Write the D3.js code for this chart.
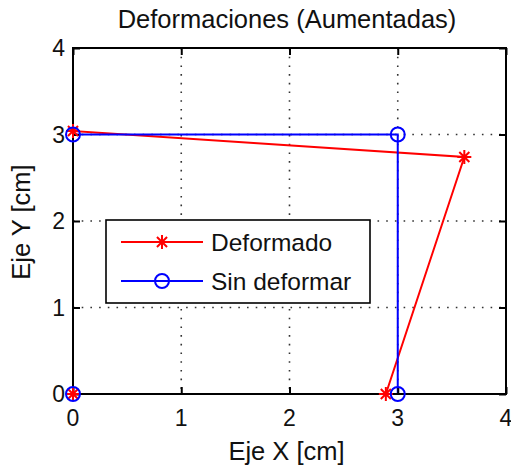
<!DOCTYPE html>
<html>
<head>
<meta charset="utf-8">
<script src="https://cdn.jsdelivr.net/npm/d3@7/dist/d3.min.js"></script>
<style>
html,body{margin:0;padding:0;background:#fff;}
svg{display:block;}
text{font-family:"Liberation Sans",Arial,sans-serif;fill:#111;}
</style>
</head>
<body>
<svg id="chart" width="511" height="467"></svg>
<script>
// ---- data ----
const xTicks = [0, 1, 2, 3, 4];
const yTicks = [0, 1, 2, 3, 4];
const deformadoX = [0, 0, 3.615, 2.89];
const deformadoY = [0, 3.04, 2.74, 0];
const sinDeformarX = [0, 0, 3, 3];
const sinDeformarY = [0, 3, 3, 0];
const seriesNames = ["Deformado", "Sin deformar"];
const titleText = "Deformaciones (Aumentadas)";
const xLabelText = "Eje X [cm]";
const yLabelText = "Eje Y [cm]";

// ---- layout ----
const L = 73, R = 506, T = 48, B = 394;
const svg = d3.select("#chart");
const x = d3.scaleLinear().domain([0, 4]).range([L, R]);
const y = d3.scaleLinear().domain([0, 4]).range([B, T]);

// grid
const grid = svg.append("g");
grid.selectAll("line.gx").data(xTicks.slice(1, -1)).join("line")
  .attr("x1", d => x(d)).attr("x2", d => x(d)).attr("y1", T).attr("y2", B)
  .attr("stroke", "#333").attr("stroke-width", 1.6).attr("stroke-dasharray", "1.6,7.1");
grid.selectAll("line.gy").data(yTicks.slice(1, -1)).join("line")
  .attr("y1", d => y(d)).attr("y2", d => y(d)).attr("x1", L).attr("x2", R)
  .attr("stroke", "#333").attr("stroke-width", 1.6).attr("stroke-dasharray", "1.6,7.1");

const line = d3.line().x(d => x(d[0])).y(d => y(d[1]));
const defPts = deformadoX.map((v, i) => [v, deformadoY[i]]);
const sinPts = sinDeformarX.map((v, i) => [v, sinDeformarY[i]]);

function star(g, cx, cy, r, color) {
  const a = r * 0.72;
  const d = `M${cx - r},${cy}L${cx + r},${cy}M${cx},${cy - r}L${cx},${cy + r}` +
            `M${cx - a},${cy - a}L${cx + a},${cy + a}M${cx - a},${cy + a}L${cx + a},${cy - a}`;
  g.append("path").attr("d", d).attr("stroke", color).attr("stroke-width", 2).attr("fill", "none");
}

// red series
const gRed = svg.append("g");
gRed.append("path").attr("d", line(defPts)).attr("fill", "none")
  .attr("stroke", "#ff0000").attr("stroke-width", 2);

// blue series
const gBlue = svg.append("g");
gBlue.append("path").attr("d", line(sinPts)).attr("fill", "none")
  .attr("stroke", "#0000ff").attr("stroke-width", 2);

// axes box
const tickLen = 7;
const ax = svg.append("g");
ax.append("rect").attr("x", L).attr("y", T).attr("width", R - L).attr("height", B - T)
  .attr("fill", "none").attr("stroke", "#000").attr("stroke-width", 2);
const xAxisB = d3.axisBottom(x).tickValues(xTicks).tickSizeInner(-tickLen).tickSizeOuter(0).tickFormat("");
const xAxisT = d3.axisTop(x).tickValues(xTicks).tickSizeInner(-tickLen).tickSizeOuter(0).tickFormat("");
const yAxisL = d3.axisLeft(y).tickValues(yTicks).tickSizeInner(-tickLen).tickSizeOuter(0).tickFormat("");
const yAxisR = d3.axisRight(y).tickValues(yTicks).tickSizeInner(-tickLen).tickSizeOuter(0).tickFormat("");
[[xAxisB, `translate(0,${B})`], [xAxisT, `translate(0,${T})`],
 [yAxisL, `translate(${L},0)`], [yAxisR, `translate(${R},0)`]].forEach(([a, t]) => {
  const g = ax.append("g").attr("transform", t).call(a);
  g.select(".domain").remove();
  g.selectAll(".tick line").attr("stroke", "#000").attr("stroke-width", 2);
});

// markers on top of axes
const gMk = svg.append("g");
defPts.forEach(p => star(gMk, x(p[0]), y(p[1]), 7, "#ff0000"));
gMk.selectAll("circle").data(sinPts).join("circle")
  .attr("cx", d => x(d[0])).attr("cy", d => y(d[1])).attr("r", 7)
  .attr("fill", "none").attr("stroke", "#0000ff").attr("stroke-width", 2);

// tick labels
svg.append("g").selectAll("text").data(xTicks).join("text")
  .attr("x", d => x(d)).attr("y", 426).attr("text-anchor", "middle")
  .attr("font-size", 23).text(d => d);
svg.append("g").selectAll("text").data(yTicks).join("text")
  .attr("x", 65).attr("y", d => y(d) + 8).attr("text-anchor", "end")
  .attr("font-size", 23).text(d => d);

// title & labels
svg.append("text").attr("x", 287).attr("y", 28).attr("text-anchor", "middle")
  .attr("font-size", 25.5).text(titleText);
svg.append("text").attr("x", 286.5).attr("y", 460).attr("text-anchor", "middle")
  .attr("font-size", 25.5).text(xLabelText);
svg.append("text").attr("transform", "translate(30,222) rotate(-90)").attr("text-anchor", "middle")
  .attr("font-size", 25.5).text(yLabelText);

// legend
const lg = svg.append("g");
lg.append("rect").attr("x", 106).attr("y", 220).attr("width", 264).attr("height", 83)
  .attr("fill", "#fff").attr("stroke", "#000").attr("stroke-width", 1.6);
const rowsY = [242, 281];
const colors = ["#ff0000", "#0000ff"];
seriesNames.forEach((name, i) => {
  const ry = rowsY[i];
  lg.append("line").attr("x1", 121).attr("x2", 203).attr("y1", ry).attr("y2", ry)
    .attr("stroke", colors[i]).attr("stroke-width", 2);
  if (i === 0) star(lg, 162, ry, 7, colors[i]);
  else lg.append("circle").attr("cx", 162).attr("cy", ry).attr("r", 7)
    .attr("fill", "none").attr("stroke", colors[i]).attr("stroke-width", 2);
  lg.append("text").attr("x", 211).attr("y", ry + 9).attr("font-size", 24.5).text(name);
});
</script>
</body>
</html>
